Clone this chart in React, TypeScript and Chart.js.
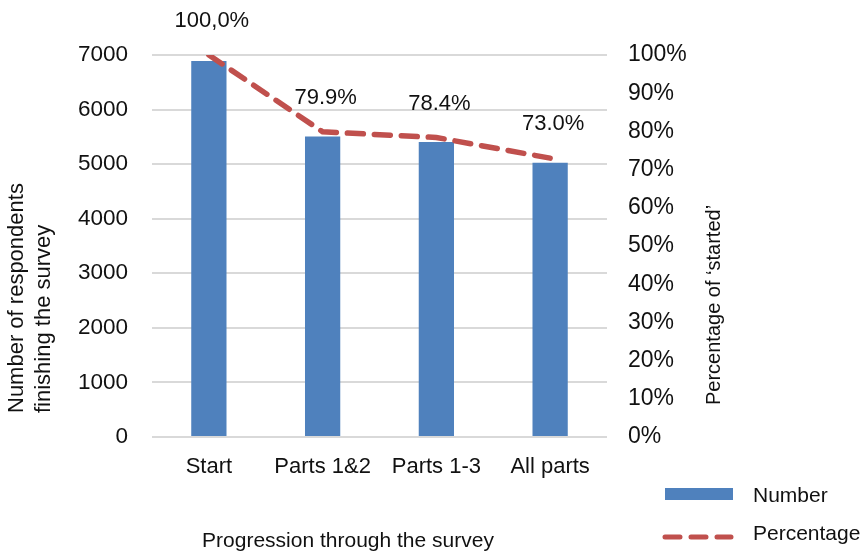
import React, { useEffect, useRef } from "react";
import { Chart, registerables } from "chart.js";

Chart.register(...registerables);

const categories = ["Start", "Parts 1&2", "Parts 1-3", "All parts"];
const numbers = [6890, 5505, 5405, 5025];
const percentages = [100, 79.9, 78.4, 73.0];
const percentLabels = ["100,0%", "79.9%", "78.4%", "73.0%"];
const leftTicksMax = 7000;
const rightTicksMax = 100;

const FONT = "'Liberation Sans', Arial, sans-serif";
const BLUE = "#4F81BD";
const RED = "#C0504D";
const TEXT = "#111";

const overlayPlugin = {
  id: "overlay",
  afterDraw(chart: any) {
    const ctx = chart.ctx;
    ctx.save();
    // data labels above line points
    const meta = chart.getDatasetMeta(1);
    ctx.font = `22px ${FONT}`;
    ctx.fillStyle = TEXT;
    ctx.textAlign = "center";
    ctx.textBaseline = "middle";
    meta.data.forEach((pt: any, i: number) => {
      ctx.fillText(percentLabels[i], pt.x + 3, pt.y - 34);
    });

    // x axis title
    ctx.font = `21px ${FONT}`;
    ctx.textAlign = "center";
    ctx.textBaseline = "middle";
    ctx.fillText("Progression through the survey", 348, 541);

    // left axis title (two lines, rotated)
    ctx.save();
    ctx.translate(0, 413);
    ctx.rotate(-Math.PI / 2);
    ctx.textAlign = "left";
    ctx.textBaseline = "middle";
    ctx.font = `22px ${FONT}`;
    ctx.fillText("Number of respondents", 0, 17);
    ctx.fillText("finishing the survey", 0, 44);
    ctx.restore();

    // right axis title
    ctx.save();
    ctx.translate(714, 405);
    ctx.rotate(-Math.PI / 2);
    ctx.textAlign = "left";
    ctx.textBaseline = "middle";
    ctx.font = `20px ${FONT}`;
    ctx.fillText("Percentage of \u2018started\u2019", 0, 0);
    ctx.restore();

    // legend
    ctx.fillStyle = BLUE;
    ctx.fillRect(665, 488, 68, 12);
    ctx.strokeStyle = RED;
    ctx.lineWidth = 5;
    ctx.lineCap = "round";
    ctx.setLineDash([15, 11]);
    ctx.beginPath();
    ctx.moveTo(665, 537);
    ctx.lineTo(731, 537);
    ctx.stroke();
    ctx.setLineDash([]);
    ctx.fillStyle = TEXT;
    ctx.font = `21px ${FONT}`;
    ctx.textAlign = "left";
    ctx.textBaseline = "middle";
    ctx.fillText("Number", 753, 496);
    ctx.fillText("Percentage", 753, 534);
    ctx.restore();
  },
};

export default function App() {
  const ref = useRef<HTMLCanvasElement | null>(null);
  useEffect(() => {
    if (!ref.current) return;
    const chart = new Chart(ref.current, {
      type: "bar",
      data: {
        labels: categories,
        datasets: [
          {
            type: "bar",
            label: "Number",
            data: numbers,
            backgroundColor: BLUE,
            yAxisID: "y",
            barPercentage: 0.31,
            categoryPercentage: 1,
            order: 1,
          },
          {
            type: "line",
            label: "Percentage",
            data: percentages,
            borderColor: RED,
            borderWidth: 5.5,
            borderDash: [16, 11],
            borderCapStyle: "round",
            pointRadius: 0,
            tension: 0,
            yAxisID: "y1",
            order: 0,
          } as any,
        ],
      },
      options: {
        animation: false,
        responsive: false,
        layout: { padding: { top: 55, left: 0, right: 0, bottom: 0 } },
        plugins: { legend: { display: false }, tooltip: { enabled: false } },
        scales: {
          x: {
            grid: { display: false, drawTicks: false },
            border: { display: false },
            ticks: {
              color: TEXT,
              font: { family: FONT, size: 22 },
              padding: 17,
              maxRotation: 0,
            },
            afterFit: (s: any) => {
              s.height = 116;
            },
          },
          y: {
            position: "left",
            min: 0,
            max: leftTicksMax,
            ticks: {
              stepSize: 1000,
              color: TEXT,
              font: { family: FONT, size: 22.5 },
              padding: 24,
              callback: (v: any) => String(v),
            },
            grid: { color: "#d9d9d9", lineWidth: 2, drawTicks: false },
            border: { display: false },
            afterFit: (s: any) => {
              s.width = 152;
            },
          },
          y1: {
            position: "right",
            min: 0,
            max: rightTicksMax,
            ticks: {
              stepSize: 10,
              color: TEXT,
              font: { family: FONT, size: 23 },
              padding: 21,
              callback: (v: any) => `${v}%`,
            },
            grid: { display: false, drawTicks: false },
            border: { display: false },
            afterFit: (s: any) => {
              s.width = 259;
            },
          },
        },
      },
      plugins: [overlayPlugin],
    });
    return () => chart.destroy();
  }, []);
  return (
    <div style={{ position: "absolute", left: 0, top: 0, width: 866, height: 553, background: "#fff" }}>
      <canvas ref={ref} width={866} height={553} style={{ display: "block" }} />
    </div>
  );
}
